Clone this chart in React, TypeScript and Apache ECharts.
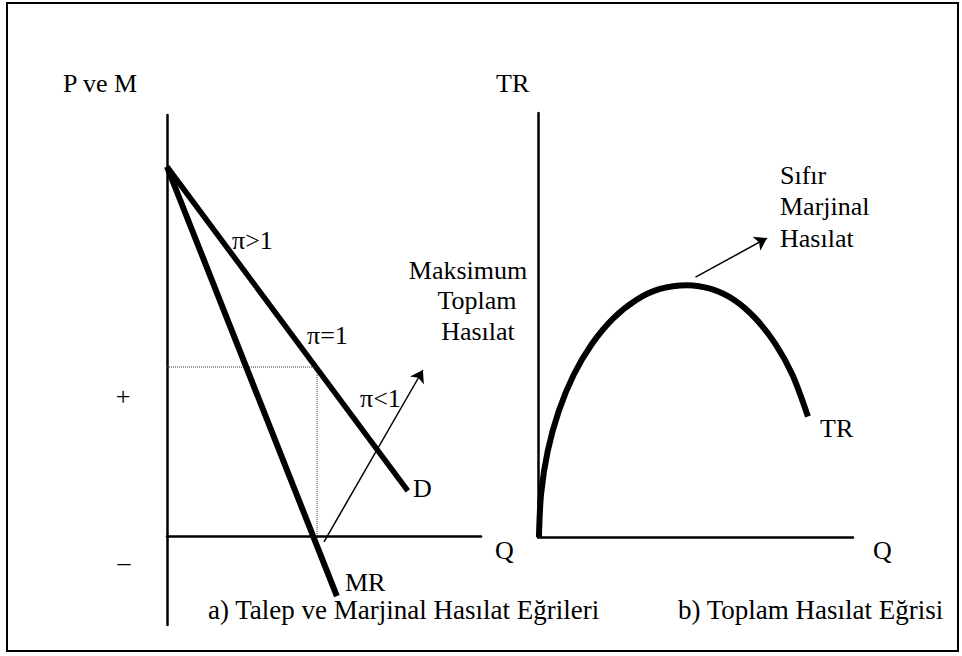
import React, { useEffect, useRef } from "react";
import * as echarts from "echarts";

// ---- Left panel: P ve M (price / marginal revenue) vs Q ----
const demandQ = [0, 7.67];
const demandP = [10, 1.23];
const mrQ = [0, 5.41];
const mrP = [10, -1.62];
const unitElasticQ = 4.78; // Q where MR = 0 (pi = 1 on demand)
const unitElasticP = 4.58;
const leftArrowFrom = [5.0, -0.15];
const leftArrowTo = [8.15, 4.5];

// ---- Right panel: TR vs Q ----
const trQ = [0.03, 0.1, 0.31, 0.66, 1.13, 1.71, 2.38, 3.12, 3.87, 4.73, 5.49, 6.23, 6.91, 7.54, 8.08, 8.57];
const trV = [0, 1.03, 2.03, 2.97, 3.82, 4.55, 5.15, 5.59, 5.85, 5.94, 5.85, 5.59, 5.15, 4.55, 3.82, 2.84];
const rightArrowFrom = [5.0, 6.13];
const rightArrowTo = [7.27, 7.05];

// ---- Texts ----
const leftAxisName = "P ve M";
const rightAxisName = "TR";
const signLabels = ["+", "–"];
const elasticityLabels = ["π>1", "π=1", "π<1"];
const maxTRLabel = ["Maksimum", "Toplam", "Hasılat"];
const zeroMRLabel = ["Sıfır", "Marjinal", "Hasılat"];
const curveLabels = ["D", "MR", "TR"];
const qLabel = "Q";
const captions = ["a) Talep ve Marjinal Hasılat Eğrileri", "b) Toplam Hasılat Eğrisi"];

const FONT = "Times New Roman, Liberation Serif, DejaVu Serif, serif";

function txt(text: string, x: number, y: number, align: string = "left", size = 26) {
  return {
    type: "text",
    x,
    y,
    style: {
      text,
      fill: "#000",
      fontFamily: FONT,
      fontSize: size,
      align,
      verticalAlign: "middle",
    },
    silent: true,
  };
}

export default function App() {
  const ref = useRef<HTMLDivElement>(null);

  useEffect(() => {
    if (!ref.current) return;
    const chart = echarts.init(ref.current, undefined, { renderer: "svg" });

    const axisLine = { show: true, onZero: true, lineStyle: { color: "#000", width: 2.5 } };
    const hidden = {
      axisTick: { show: false },
      axisLabel: { show: false },
      splitLine: { show: false },
    };

    const option: any = {
      animation: false,
      backgroundColor: "#fff",
      textStyle: { fontFamily: FONT },
      grid: [
        { left: 167, top: 115, width: 314, height: 510, outerBoundsMode: "none", containLabel: false },
        { left: 538, top: 113, width: 315, height: 424, outerBoundsMode: "none", containLabel: false },
      ],
      xAxis: [
        { type: "value", gridIndex: 0, min: 0, max: 10, axisLine, ...hidden },
        { type: "value", gridIndex: 1, min: 0, max: 10, axisLine, ...hidden },
      ],
      yAxis: [
        { type: "value", gridIndex: 0, min: -2.4, max: 11.4, axisLine, ...hidden },
        { type: "value", gridIndex: 1, min: 0, max: 10, axisLine, ...hidden },
      ],
      series: [
        {
          type: "line",
          xAxisIndex: 0,
          yAxisIndex: 0,
          data: [
            [0, unitElasticP],
            [unitElasticQ, unitElasticP],
            [unitElasticQ, 0],
          ],
          symbol: "none",
          lineStyle: { color: "#333", width: 1, type: "dotted" },
          z: 1,
        },
        {
          type: "line",
          xAxisIndex: 0,
          yAxisIndex: 0,
          data: demandQ.map((q, i) => [q, demandP[i]]),
          symbol: "none",
          lineStyle: { color: "#000", width: 5.5 },
          z: 3,
        },
        {
          type: "line",
          xAxisIndex: 0,
          yAxisIndex: 0,
          data: mrQ.map((q, i) => [q, mrP[i]]),
          symbol: "none",
          lineStyle: { color: "#000", width: 6 },
          z: 3,
        },
        {
          type: "lines",
          coordinateSystem: "cartesian2d",
          xAxisIndex: 0,
          yAxisIndex: 0,
          data: [{ coords: [leftArrowFrom, leftArrowTo] }],
          symbol: ["none", "arrow"],
          symbolSize: 12,
          lineStyle: { color: "#000", width: 1.5, opacity: 1 },
          z: 2,
        },
        {
          type: "line",
          xAxisIndex: 1,
          yAxisIndex: 1,
          data: trQ.map((q, i) => [q, trV[i]]),
          symbol: "none",
          smooth: 0.3,
          lineStyle: { color: "#000", width: 6 },
          z: 3,
        },
        {
          type: "lines",
          coordinateSystem: "cartesian2d",
          xAxisIndex: 1,
          yAxisIndex: 1,
          data: [{ coords: [rightArrowFrom, rightArrowTo] }],
          symbol: ["none", "arrow"],
          symbolSize: 12,
          lineStyle: { color: "#000", width: 1.5, opacity: 1 },
          z: 2,
        },
      ],
      graphic: [
        {
          type: "rect",
          shape: { x: 7, y: 3, width: 951, height: 648 },
          style: { fill: "none", stroke: "#000", lineWidth: 2 },
          silent: true,
        },
        txt(leftAxisName, 63, 83),
        txt(rightAxisName, 496, 83),
        txt(signLabels[0], 123, 396, "center"),
        txt(signLabels[1], 124, 562, "center"),
        txt(elasticityLabels[0], 232, 240),
        txt(elasticityLabels[1], 307, 335),
        txt(elasticityLabels[2], 360, 398),
        txt(maxTRLabel[0], 468, 270, "center"),
        txt(maxTRLabel[1], 477, 300, "center"),
        txt(maxTRLabel[2], 478, 331, "center"),
        txt(zeroMRLabel[0], 780, 175),
        txt(zeroMRLabel[1], 780, 206),
        txt(zeroMRLabel[2], 780, 238),
        txt(curveLabels[0], 413, 488),
        txt(curveLabels[1], 345, 582),
        txt(curveLabels[2], 820, 428),
        txt(qLabel, 495, 550),
        txt(qLabel, 873, 550),
        txt(captions[0], 208, 610, "left", 27),
        txt(captions[1], 678, 610, "left", 27),
      ],
    };

    chart.setOption(option);
    return () => chart.dispose();
  }, []);

  return (
    <div
      ref={ref}
      style={{ position: "absolute", left: 0, top: 0, width: 962, height: 656, background: "#fff" }}
    />
  );
}
